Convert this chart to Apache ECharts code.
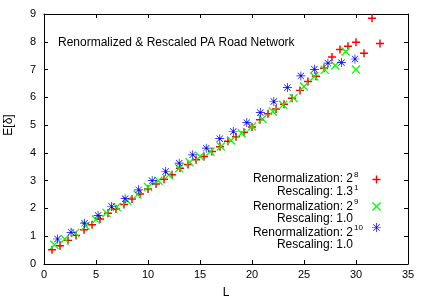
<!DOCTYPE html>
<html>
<head>
<meta charset="utf-8">
<script src="https://cdn.jsdelivr.net/npm/echarts@6/dist/echarts.min.js"></script>
<style>
  html, body { margin: 0; padding: 0; background: #fff; }
  #chart { width: 429px; height: 301px; }
</style>
</head>
<body>
<div id="chart"></div>
<script>
// data
var redX = [0.77, 1.54, 2.31, 3.08, 3.85, 4.62, 5.38, 6.15, 6.92, 7.69, 8.46, 9.23, 10.0, 10.77,
  11.54, 12.31, 13.08, 13.85, 14.62, 15.38, 16.15, 16.92, 17.69, 18.46, 19.23, 20.0, 20.77,
  21.54, 22.31, 23.08, 23.85, 24.62, 25.38, 26.15, 26.92, 27.69, 28.46, 29.23, 30.0, 30.77,
  31.54, 32.31]
var redY = [0.51, 0.66, 0.85, 1.03, 1.23, 1.41, 1.62, 1.83, 1.98, 2.14, 2.34, 2.52, 2.70, 2.88,
  3.05, 3.21, 3.45, 3.58, 3.75, 3.87, 4.05, 4.22, 4.42, 4.58, 4.74, 4.93, 5.19, 5.41, 5.58,
  5.75, 5.97, 6.25, 6.57, 6.76, 7.05, 7.45, 7.72, 7.84, 7.98, 7.59, 8.85, 7.94]
var greenX = [1, 2, 3, 4, 5, 6, 7, 8, 9, 10, 11, 12, 13, 14, 15, 16, 17, 18, 19, 20,
  21, 22, 23, 24, 25, 26, 27, 28, 29, 30]
var greenY = [0.69, 0.90, 1.12, 1.37, 1.60, 1.84, 2.05, 2.28, 2.50, 2.77, 3.00, 3.20, 3.45, 3.66,
  3.87, 4.05, 4.23, 4.45, 4.71, 4.95, 5.22, 5.49, 5.73, 5.97, 6.39, 6.75, 6.99, 7.15, 7.65, 7.00]
var blueX = [1.3, 2.6, 3.9, 5.2, 6.5, 7.8, 9.1, 10.4, 11.7, 13.0, 14.3, 15.6, 16.9, 18.2, 19.5,
  20.8, 22.1, 23.4, 24.7, 26.0, 27.3, 28.6, 29.9]
var blueY = [0.90, 1.14, 1.47, 1.75, 2.07, 2.35, 2.67, 3.00, 3.33, 3.63, 3.93, 4.17, 4.51, 4.77,
  5.09, 5.45, 5.85, 6.35, 6.77, 7.01, 7.23, 7.25, 7.38]

var xTicks = [0, 35, 5]
var yTicks = [0, 9, 1]

var FONT = 'Liberation Sans, Arial, sans-serif'

// marker outlines in a 10x10 box, used both for series symbols and legend keys
var PLUS_SHAPE = [[[4.1, 0], [5.9, 0], [5.9, 4.1], [10, 4.1], [10, 5.9], [5.9, 5.9], [5.9, 10],
  [4.1, 10], [4.1, 5.9], [0, 5.9], [0, 4.1], [4.1, 4.1]]]
var CROSS_SHAPE = [[[0, 1], [1, 0], [10, 9], [9, 10]], [[9, 0], [10, 1], [1, 10], [0, 9]]]
var STAR_SHAPE = [[[4.6, 0], [5.4, 0], [5.4, 4.6], [10, 4.6], [10, 5.4], [5.4, 5.4], [5.4, 10],
  [4.6, 10], [4.6, 5.4], [0, 5.4], [0, 4.6], [4.6, 4.6]],
  [[1.2, 1.7], [1.7, 1.2], [8.8, 8.3], [8.3, 8.8]], [[8.3, 1.2], [8.8, 1.7], [1.7, 8.8], [1.2, 8.3]]]

function toPath (shape) {
  return 'path://' + shape.map(function (poly) {
    return poly.map(function (p, i) { return (i ? 'L' : 'M') + p[0] + ',' + p[1] }).join('') + 'Z'
  }).join(' ')
}

function pairs (xs, ys) {
  return xs.map(function (x, i) { return [x, ys[i]] })
}

var myChart = echarts.init(document.getElementById('chart'))

var axisCommon = {
  axisLine: { show: true, onZero: false, lineStyle: { color: '#000', width: 1 } },
  axisTick: { show: true, inside: true, length: 4, lineStyle: { color: '#000' } },
  splitLine: { show: false }
}

function legendText (y, main, sup) {
  var items = [{
    type: 'text', x: 353, y: y,
    style: { text: main, font: '12px ' + FONT, fill: '#000', align: 'right', verticalAlign: 'middle' }
  }]
  if (sup) {
    items.push({
      type: 'text', x: 354, y: y - 4.5,
      style: { text: sup, font: '8px ' + FONT, fill: '#000', align: 'left', verticalAlign: 'middle' }
    })
  }
  return items
}

function legendMark (cy, shape, size, color) {
  var s = size / 10
  var x0 = 376.5 - size / 2
  var y0 = cy - size / 2
  return shape.map(function (poly) {
    return {
      type: 'polygon',
      shape: { points: poly.map(function (p) { return [x0 + p[0] * s, y0 + p[1] * s] }) },
      style: { fill: color }
    }
  })
}

var graphics = []
  .concat(legendText(179, 'Renormalization: 2', '8'))
  .concat(legendText(192, 'Rescaling: 1.3', '1'))
  .concat(legendText(206.5, 'Renormalization: 2', '9'))
  .concat(legendText(218.5, 'Rescaling: 1.0'))
  .concat(legendText(232.5, 'Renormalization: 2', '10'))
  .concat(legendText(245, 'Rescaling: 1.0'))
  .concat(legendMark(179.5, PLUS_SHAPE, 8, '#ff0000'))
  .concat(legendMark(206.5, CROSS_SHAPE, 9, '#00ff00'))
  .concat(legendMark(227.5, STAR_SHAPE, 9, '#0000ff'))

var option = {
  animation: false,
  backgroundColor: '#fff',
  textStyle: { fontFamily: FONT },
  title: {
    text: 'Renormalized & Rescaled PA Road Network',
    left: 53,
    top: 32,
    textStyle: { fontSize: 12, fontWeight: 'normal', color: '#000', fontFamily: FONT }
  },
  grid: { left: 44, right: 21, top: 14, bottom: 37, containLabel: false, outerBoundsMode: 'none' },
  xAxis: [
    Object.assign({}, axisCommon, {
      type: 'value', min: xTicks[0], max: xTicks[1], interval: xTicks[2],
      position: 'bottom',
      name: 'L', nameLocation: 'middle', nameGap: 23,
      nameTextStyle: { fontSize: 12, color: '#000', fontFamily: FONT },
      axisLabel: { fontSize: 11, color: '#000', margin: 5, fontFamily: FONT }
    }),
    Object.assign({}, axisCommon, {
      type: 'value', min: xTicks[0], max: xTicks[1], interval: xTicks[2],
      position: 'top', axisLabel: { show: false }
    })
  ],
  yAxis: [
    Object.assign({}, axisCommon, {
      type: 'value', min: yTicks[0], max: yTicks[1], interval: yTicks[2],
      position: 'left',
      name: 'E[δ]', nameLocation: 'middle', nameGap: 29,
      nameTextStyle: { fontSize: 12, color: '#000', fontFamily: FONT, padding: [0, 0, 0, 28] },
      axisLabel: { fontSize: 11, color: '#000', margin: 8, fontFamily: FONT }
    }),
    Object.assign({}, axisCommon, {
      type: 'value', min: yTicks[0], max: yTicks[1], interval: yTicks[2],
      position: 'right', axisLabel: { show: false }
    })
  ],
  graphic: graphics,
  series: [
    {
      name: 'Renormalization: 2^8', type: 'scatter', symbol: toPath(PLUS_SHAPE), symbolSize: 8,
      itemStyle: { color: '#ff0000', opacity: 1 },
      data: pairs(redX, redY)
    },
    {
      name: 'Renormalization: 2^9', type: 'scatter', symbol: toPath(CROSS_SHAPE), symbolSize: 9,
      itemStyle: { color: '#00ff00', opacity: 1 },
      data: pairs(greenX, greenY)
    },
    {
      name: 'Renormalization: 2^10', type: 'scatter', symbol: toPath(STAR_SHAPE), symbolSize: 9,
      itemStyle: { color: '#0000ff', opacity: 1 },
      data: pairs(blueX, blueY)
    }
  ]
}

myChart.setOption(option, true)
</script>
</body>
</html>
